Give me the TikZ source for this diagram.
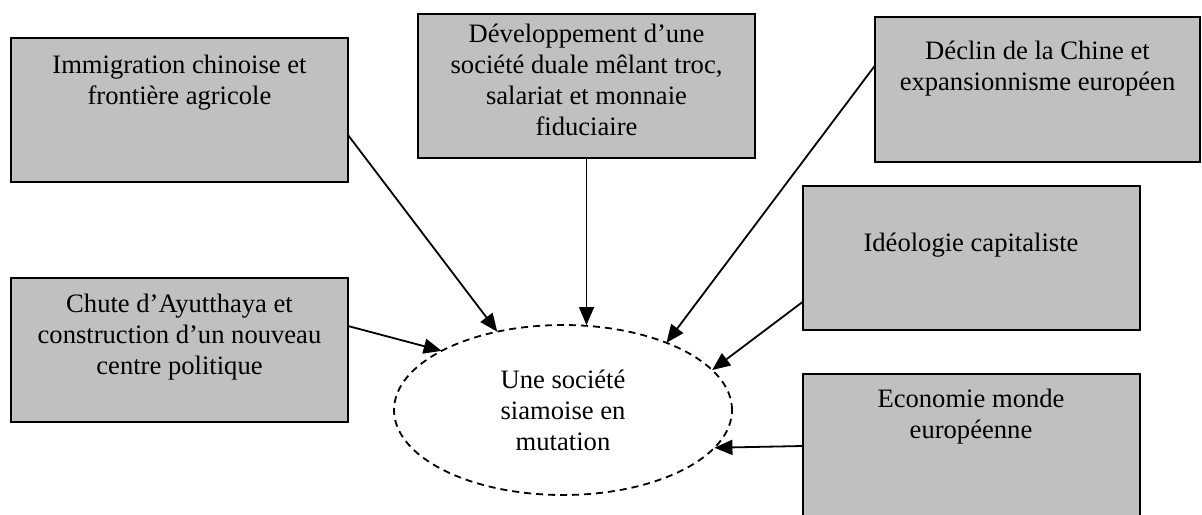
\documentclass[tikz,border=0pt]{standalone}
\usepackage{fontspec}
\setmainfont{Liberation Serif}
\usepackage{tikz}
\usetikzlibrary{shapes.geometric, arrows.meta, positioning}
\definecolor{boxgray}{RGB}{192, 192, 192}

\begin{document}
\begin{tikzpicture}[x=0.5pt, y=-0.5pt,
    box/.style={draw, fill=boxgray, line width=1pt, inner sep=0pt, outer sep=0pt, minimum width=168.5pt, minimum height=72pt},
    lbl/.style={align=center, inner sep=0pt, outer sep=0pt, font=\fontsize{13.3}{15.5}\selectfont},
    arr/.style={line width=0.9pt, -{Triangle[length=9pt, width=7.5pt]}}]
  \useasboundingbox (0,0) rectangle (1202,514);

  \node[box] (imm) at (179.5,110) {};
  \node[box] (dev) at (586.5,86) {};
  \node[box, minimum width=162.5pt, minimum height=72.5pt] (dec) at (1037.5,89.5) {};
  \node[box] (ide) at (971,258) {};
  \node[box] (chu) at (179.5,350) {};
  \node[box] (eco) at (971,446) {};

  \node[lbl, below=6.8pt of imm.north] {\strut Immigration chinoise et\\frontière agricole};
  \node[lbl, below=3.2pt of dev.north] {\strut Développement d’une\\société duale mêlant troc,\\salariat et monnaie\\fiduciaire};
  \node[lbl, below=10.6pt of dec.north] {\strut Déclin de la Chine et\\expansionnisme européen};
  \node[lbl, below=22.1pt of ide.north] {\strut Idéologie capitaliste};
  \node[lbl, below=6.6pt of chu.north] {\strut Chute d’Ayutthaya et\\construction d’un nouveau\\centre politique};
  \node[lbl, below=6.1pt of eco.north] {\strut Economie monde\\européenne};

  \node[ellipse, draw, dash pattern=on 3.5pt off 2.5pt, line width=0.9pt, minimum width=169pt, minimum height=85pt, inner sep=0pt, lbl] (soc) at (563,410) {Une société\\siamoise en\\mutation};

  \draw[arr] ([yshift=-12.5pt]imm.east) -- (soc.130);
  \draw[arr] (dev.south) -- (dev.south |- soc.north);
  \draw[arr] ([yshift=12pt]dec.west) -- (soc.33);
  \draw[arr] ([yshift=-22pt]ide.west) -- (soc.15);
  \draw[arr] ([yshift=12pt]chu.east) -- (soc.154);
  \draw[arr] (eco.west) -- (soc.-14);
\end{tikzpicture}
\end{document}
